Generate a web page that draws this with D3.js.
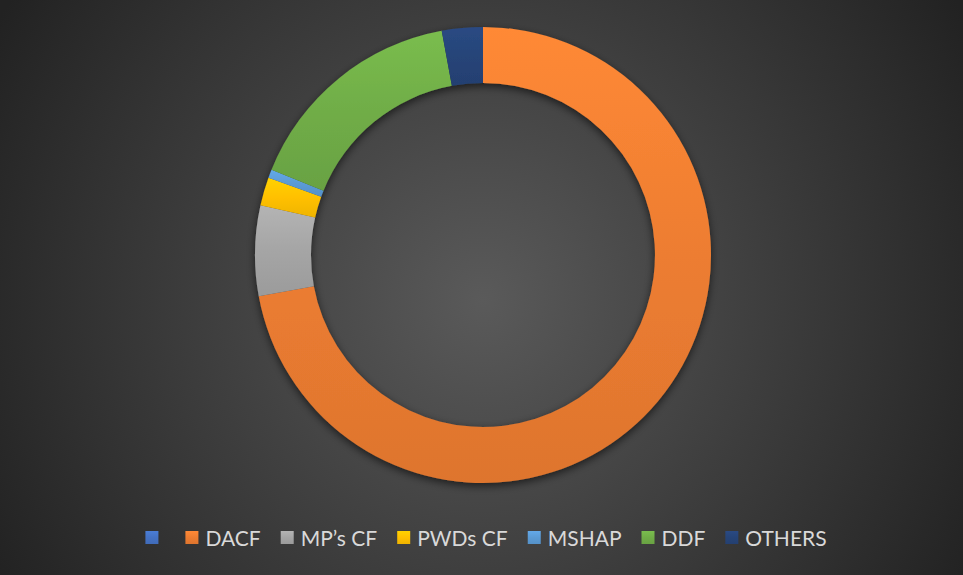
<!DOCTYPE html>
<html>
<head>
<meta charset="utf-8">
<script src="https://cdn.jsdelivr.net/npm/d3@7"></script>
<style>
  body { margin: 0; background: #2b2b2b; }
  svg { display: block; }
</style>
</head>
<body>
<div id="chart"></div>
<script>
// data (share of total, %)
const categories = ["", "DACF", "MP\u2019s CF", "PWDs CF", "MSHAP", "DDF", "OTHERS"];
const values = [0, 72.1, 6.4, 2.0, 0.6, 16.0, 2.9];
const colors = ["#4472C4", "#ED7D31", "#A5A5A5", "#FFC000", "#5B9BD5", "#70AD47", "#264478"];

const width = 963, height = 575;
const cx = 483, cy = 255;
const outerR = 228, innerR = 172;

const svg = d3.select("#chart")
    .append("svg")
    .attr("width", width)
    .attr("height", height);

const defs = svg.append("defs");

// background radial gradient
const bg = defs.append("radialGradient")
    .attr("id", "bg")
    .attr("gradientUnits", "userSpaceOnUse")
    .attr("cx", cx).attr("cy", 300)
    .attr("r", 560);
bg.append("stop").attr("offset", "0%").attr("stop-color", "#5a5a5a");
bg.append("stop").attr("offset", "100%").attr("stop-color", "#222222");

svg.append("rect")
    .attr("width", width)
    .attr("height", height)
    .attr("fill", "url(#bg)");

// one vertical gradient per slice colour, lighter on top
colors.forEach((c, i) => {
    const g = defs.append("linearGradient")
        .attr("id", "grad" + i)
        .attr("x1", 0).attr("y1", 0).attr("x2", 0).attr("y2", 1);
    g.append("stop").attr("offset", "0%").attr("stop-color", d3.color(c).brighter(0.25));
    g.append("stop").attr("offset", "50%").attr("stop-color", c);
    g.append("stop").attr("offset", "100%").attr("stop-color", d3.color(c).darker(0.18));
});

// soft shadow under the ring
const shadow = defs.append("filter")
    .attr("id", "shadow")
    .attr("x", "-20%").attr("y", "-20%")
    .attr("width", "140%").attr("height", "140%");
shadow.append("feDropShadow")
    .attr("dx", 0).attr("dy", 3)
    .attr("stdDeviation", 4)
    .attr("flood-color", "#000")
    .attr("flood-opacity", 0.6);

const pie = d3.pie().sort(null).value(d => d);
const arc = d3.arc().innerRadius(innerR).outerRadius(outerR);

const arcs = pie(values);

svg.append("g")
    .attr("transform", `translate(${cx},${cy})`)
    .attr("filter", "url(#shadow)")
    .selectAll("path")
    .data(arcs)
    .join("path")
    .attr("d", arc)
    .attr("fill", (d, i) => `url(#grad${i})`);

// legend
const legend = svg.append("g");
const sq = 13, gapText = 7, gapItem = 20;
let x = 0;
categories.forEach((name, i) => {
    const item = legend.append("g").attr("transform", `translate(${x},0)`);
    item.append("rect")
        .attr("x", 0).attr("y", -sq / 2 - 0.5)
        .attr("width", sq).attr("height", sq)
        .attr("fill", `url(#grad${i})`);
    const t = item.append("text")
        .attr("x", sq + gapText)
        .attr("y", 0)
        .attr("dy", "0.36em")
        .attr("font-family", "Lato, 'Open Sans', sans-serif")
        .attr("font-size", "21px")
        .attr("fill", "#d9d9d9")
        .text(name);
    const w = name ? t.node().getComputedTextLength() : 0;
    x += sq + gapText + w + gapItem;
});
const totalW = x - gapItem;
legend.attr("transform", `translate(${486 - totalW / 2},538)`);
</script>
</body>
</html>
